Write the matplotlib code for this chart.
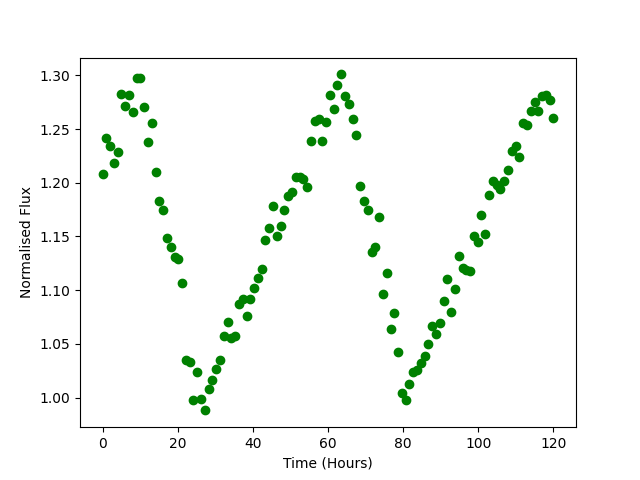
import numpy as np
import matplotlib
matplotlib.use("Agg")
import matplotlib.pyplot as plt

# time axis: 120 evenly spaced samples over 120 hours
hours = np.linspace(0, 120, 120)

# normalised flux
flux = [
    1.208, 1.242, 1.234, 1.218, 1.229, 1.283, 1.272, 1.282, 1.266, 1.298,
    1.298, 1.271, 1.238, 1.256, 1.210, 1.183, 1.175, 1.149, 1.140, 1.131,
    1.129, 1.107, 1.035, 1.033, 0.998, 1.024, 0.999, 0.988, 1.008, 1.016,
    1.027, 1.035, 1.057, 1.070, 1.055, 1.057, 1.087, 1.092, 1.076, 1.092,
    1.102, 1.111, 1.120, 1.147, 1.158, 1.178, 1.150, 1.160, 1.175, 1.188,
    1.191, 1.205, 1.205, 1.204, 1.196, 1.239, 1.258, 1.259, 1.239, 1.257,
    1.282, 1.269, 1.291, 1.301, 1.281, 1.273, 1.259, 1.245, 1.197, 1.183,
    1.175, 1.136, 1.140, 1.168, 1.096, 1.116, 1.064, 1.079, 1.042, 1.004,
    0.998, 1.013, 1.024, 1.026, 1.032, 1.039, 1.050, 1.067, 1.059, 1.069,
    1.090, 1.110, 1.080, 1.101, 1.132, 1.121, 1.119, 1.118, 1.150, 1.145,
    1.170, 1.152, 1.189, 1.202, 1.198, 1.194, 1.202, 1.212, 1.230, 1.234,
    1.224, 1.256, 1.254, 1.267, 1.275, 1.267, 1.281, 1.282, 1.277, 1.260,
]

plt.figure(figsize=(6.4, 4.8))
plt.plot(hours, flux, 'o', color='green')
plt.xlabel("Time (Hours)")
plt.ylabel("Normalised Flux")
plt.savefig("out.png", dpi=100)
